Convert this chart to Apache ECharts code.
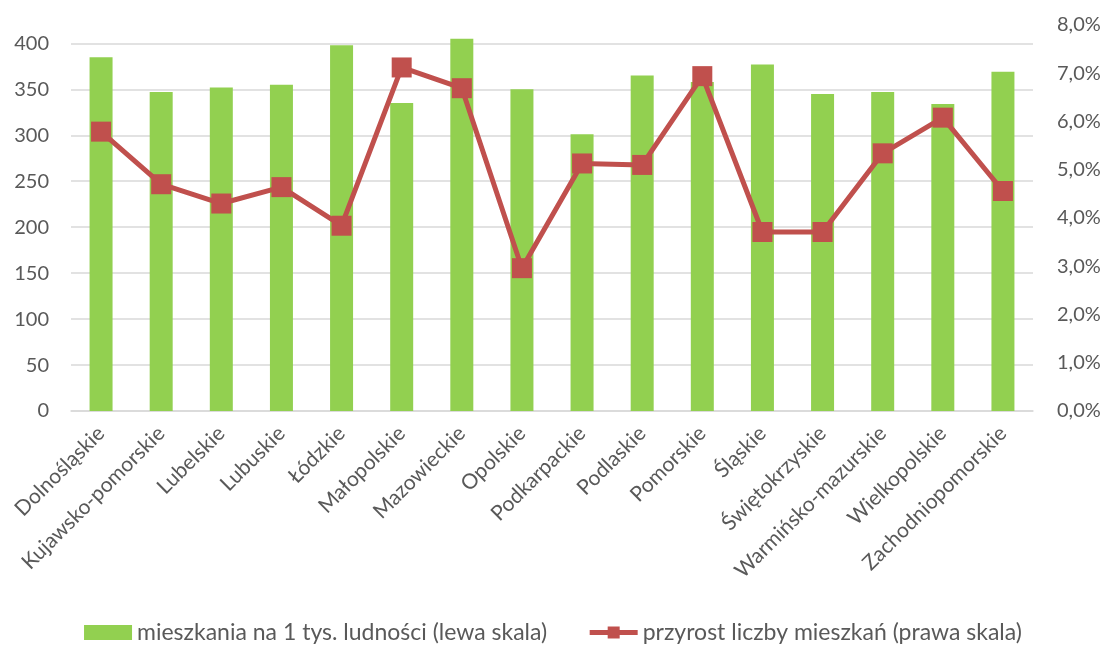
<!DOCTYPE html>
<html>
<head>
<meta charset="utf-8">
<script src="https://cdn.jsdelivr.net/npm/echarts@6/dist/echarts.min.js"></script>
<style>
  html, body { margin: 0; padding: 0; background: #fff; }
  #chart { width: 1106px; height: 652px; }
</style>
</head>
<body>
<div id="chart"></div>
<script>
// województwa
var categories = ['Dolnośląskie', 'Kujawsko-pomorskie', 'Lubelskie', 'Lubuskie', 'Łódzkie',
  'Małopolskie', 'Mazowieckie', 'Opolskie', 'Podkarpackie', 'Podlaskie', 'Pomorskie',
  'Śląskie', 'Świętokrzyskie', 'Warmińsko-mazurskie', 'Wielkopolskie', 'Zachodniopomorskie'];
// mieszkania na 1 tys. ludności
var mieszkania = [385, 347, 352, 355, 398, 335, 405, 350, 301, 365, 358, 377, 345, 347, 334, 369];
// przyrost liczby mieszkań w %
var przyrost = [5.79, 4.70, 4.30, 4.64, 3.84, 7.12, 6.69, 2.96, 5.13, 5.10, 6.94, 3.71, 3.71, 5.34, 6.08, 4.56];

var txt = '#595959';
var font = 'Lato, "Open Sans", sans-serif';

var chart = echarts.init(document.getElementById('chart'));
chart.setOption({
  animation: false,
  textStyle: { fontFamily: font },
  grid: { left: 71, right: 73, top: 25, bottom: 241, containLabel: false },
  legend: {
    bottom: 3,
    left: 'center',
    itemGap: 40,
    itemWidth: 48,
    itemHeight: 15,
    textStyle: { color: txt, fontSize: 23, fontFamily: font },
    data: [
      { name: 'mieszkania na 1 tys. ludności (lewa skala)', icon: 'rect' },
      { name: 'przyrost liczby mieszkań (prawa skala)', lineStyle: { width: 5, color: '#C0504D' } }
    ]
  },
  xAxis: {
    type: 'category',
    data: categories,
    axisLine: { lineStyle: { color: '#d9d9d9', width: 1.5 } },
    axisTick: { show: false },
    axisLabel: { rotate: 45, color: txt, fontSize: 21, margin: 19, interval: 0 }
  },
  yAxis: [
    {
      type: 'value', min: 0, max: 420, interval: 50,
      axisLine: { show: false }, axisTick: { show: false },
      axisLabel: { color: txt, fontSize: 20, margin: 22, showMaxLabel: false },
      splitLine: { showMaxLine: false, lineStyle: { color: '#d9d9d9', width: 1.5 } }
    },
    {
      type: 'value', min: 0, max: 8, interval: 1, position: 'right',
      axisLine: { show: false }, axisTick: { show: false },
      splitLine: { show: false },
      axisLabel: {
        color: txt, fontSize: 20, margin: 24,
        formatter: function (v) { return v.toFixed(1).replace('.', ',') + '%'; }
      }
    }
  ],
  series: [
    {
      name: 'mieszkania na 1 tys. ludności (lewa skala)',
      type: 'bar',
      data: mieszkania,
      barWidth: 23,
      itemStyle: { color: '#92D050' }
    },
    {
      name: 'przyrost liczby mieszkań (prawa skala)',
      type: 'line',
      yAxisIndex: 1,
      data: przyrost,
      symbol: 'rect',
      symbolSize: 20,
      lineStyle: { color: '#C0504D', width: 5 },
      itemStyle: { color: '#C0504D' }
    }
  ]
});
</script>
</body>
</html>
